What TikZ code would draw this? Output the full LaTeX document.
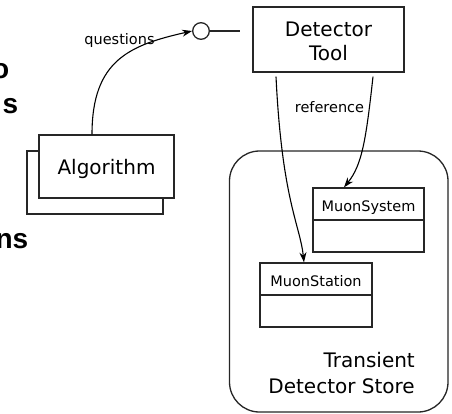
\documentclass[tikz,border=0pt]{standalone}
\usepackage{fontspec}
\setmainfont{DejaVu Sans}
\newfontfamily\slidefont{Liberation Sans}
\usetikzlibrary{arrows.meta,calc}
\begin{document}
\begin{tikzpicture}[x=1pt,y=-1pt,
  box/.style={draw=black!85,line width=1.3pt,fill=white,inner sep=0pt},
  big/.style={font=\fontsize{20}{24}\selectfont,inner sep=0pt},
  small/.style={font=\fontsize{14.5}{17}\selectfont,inner sep=0pt},
  slide/.style={font=\slidefont\bfseries\fontsize{28}{32}\selectfont,inner sep=0pt,anchor=base east},
  conn/.style={line width=1.1pt,-{Stealth[length=10pt,width=7pt]}}]
\useasboundingbox (0,0) rectangle (452,413);
% cropped slide text
\node[slide] (t1) at (9.5,78) {o};
\node[slide] (t2) at (18.5,113) {s};
\node[slide] (t3) at (28.5,248) {ns};
% store
\node[box,rounded corners=30pt,minimum width=218.5pt,minimum height=261pt] (store) at (338.75,281.5) {};
\node[big,anchor=base east] (tr) at (415,367) {Transient};
\node[big,anchor=base east] (ds) at (415,393) {Detector Store};
% detector tool
\node[box,minimum width=151pt,minimum height=65pt] (tool) at (328.5,39.5) {};
\node[big,anchor=base] (tl1) at (328.5,36) {Detector};
\node[big,anchor=base] (tl2) at (328.5,60) {Tool};
% lollipop
\node[draw=black!85,line width=1.3pt,circle,minimum size=16.6pt,inner sep=0pt] (lolli) at (201,31) {};
\draw[line width=1.3pt,black!85] (lolli.east) -- ($(tool.west)+(-12,-8.5)$) coordinate (lend);
% algorithm
\node[box,minimum width=136pt,minimum height=63pt] (algoback) at (95,182.5) {};
\node[box,minimum width=135pt,minimum height=63pt] (algo) at (106.5,166.5) {};
\node[big,anchor=base] (algot) at (106.5,174) {Algorithm};
% questions
\draw[conn] ($(algo.north)+(-14.5,0)$) .. controls (92,60) and (130,45) .. (lolli.west);
\node[small,anchor=base] (q) at (119.5,44) {questions};
% muon system
\node[box,minimum width=111pt,minimum height=64pt] (msys) at (368.5,220) {};
\draw[line width=1.3pt,black!85] (msys.west) -- (msys.east);
\node[small,anchor=base] (msyst) at (368.5,211) {MuonSystem};
% muon station
\node[box,minimum width=112pt,minimum height=64pt] (msta) at (316,295) {};
\draw[line width=1.3pt,black!85] (msta.west) -- (msta.east);
\node[small,anchor=base] (mstat) at (316,286) {MuonStation};
% reference arrows
\draw[conn] ($(tool.south)+(-52.5,4)$) .. controls (282,200) and (300,225) .. ($(msta.north)+(-12,0)$);
\draw[conn] ($(tool.south)+(44.5,4)$) .. controls (366,140) and (362,165) .. ($(msys.north)+(-24.5,0)$);
\node[small,anchor=base] (ref) at (329.5,112) {reference};
\end{tikzpicture}
\end{document}
